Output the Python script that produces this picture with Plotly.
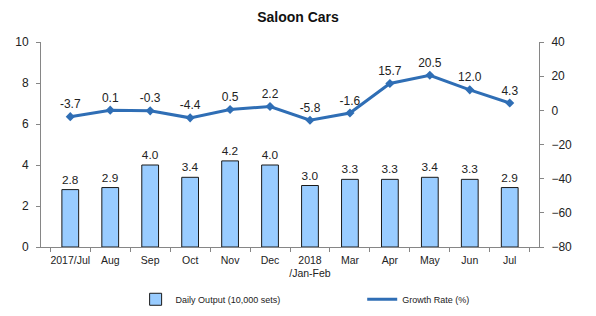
import plotly.graph_objects as go

categories = ["2017/Jul", "Aug", "Sep", "Oct", "Nov", "Dec", "2018<br>/Jan-Feb",
              "Mar", "Apr", "May", "Jun", "Jul"]
daily_output = [2.8, 2.9, 4.0, 3.4, 4.2, 4.0, 3.0, 3.3, 3.3, 3.4, 3.3, 2.9]
growth_rate = [-3.7, 0.1, -0.3, -4.4, 0.5, 2.2, -5.8, -1.6, 15.7, 20.5, 12.0, 4.3]

FONT = "Liberation Sans, Arial, sans-serif"
AXIS_COLOR = "#868686"
BAR_COLOR = "#99CCFF"
LINE_COLOR = "#2F6EB5"

fig = go.Figure()
fig.add_trace(go.Bar(
    x=categories, y=daily_output, name="Daily Output (10,000 sets)",
    marker=dict(color=BAR_COLOR, line=dict(color="#1a1a1a", width=1)),
    width=0.42,
    text=[f"{v:.1f}" for v in daily_output], textposition="outside",
    textfont=dict(size=12, color="#222222", family=FONT),
    cliponaxis=False, legend="legend",
))
fig.add_trace(go.Scatter(
    x=categories, y=growth_rate, name="Growth Rate (%)", yaxis="y2",
    mode="lines+markers+text",
    line=dict(color=LINE_COLOR, width=3),
    marker=dict(symbol="diamond", size=7, color=LINE_COLOR),
    text=[f"{v:.1f}" for v in growth_rate], textposition="top center",
    textfont=dict(size=12, color="#222222", family=FONT),
    cliponaxis=False, showlegend=False,
))
# legend-only entry for the line (plain line symbol, as in the reference)
fig.add_trace(go.Scatter(
    x=[None], y=[None], name="Growth Rate (%)", yaxis="y2", mode="lines",
    line=dict(color=LINE_COLOR, width=3), legend="legend2",
))

fig.update_layout(
    width=596, height=316,
    margin=dict(l=41, r=57, t=42, b=69, autoexpand=False),
    paper_bgcolor="white", plot_bgcolor="white",
    font=dict(family=FONT, size=12, color="#222222"),
    title=dict(text="<b>Saloon Cars</b>", x=0.5, xanchor="center", y=0.945, yanchor="middle",
               font=dict(size=14, color="#111111", family=FONT)),
    xaxis=dict(
        showline=True, linecolor=AXIS_COLOR, linewidth=1, automargin=False,
        ticks="outside", tickson="boundaries", ticklen=4, tickcolor=AXIS_COLOR,
        ticklabelstandoff=3,
        tickangle=0, tickfont=dict(size=10.5, color="#222222"), showgrid=False,
    ),
    yaxis=dict(
        range=[0, 10], dtick=2, showline=True, linecolor=AXIS_COLOR, linewidth=1,
        ticks="outside", ticklen=4, tickcolor=AXIS_COLOR, showgrid=False, zeroline=False,
        ticklabelstandoff=5,
        automargin=False, tickfont=dict(size=12, color="#222222"),
    ),
    yaxis2=dict(
        range=[-80, 40], dtick=20, overlaying="y", side="right",
        showline=True, linecolor=AXIS_COLOR, linewidth=1, automargin=False,
        ticks="outside", ticklen=4, tickcolor=AXIS_COLOR, showgrid=False, zeroline=False,
        ticklabelstandoff=5,
        tickfont=dict(size=12, color="#222222"),
    ),
    legend=dict(x=0.19, y=-0.255, xanchor="left", yanchor="middle",
                font=dict(size=9, color="#222222"), bgcolor="rgba(0,0,0,0)"),
    legend2=dict(x=0.645, y=-0.255, xanchor="left", yanchor="middle",
                 font=dict(size=9, color="#222222"), bgcolor="rgba(0,0,0,0)"),
    showlegend=True,
)

fig.write_html("out.html")
